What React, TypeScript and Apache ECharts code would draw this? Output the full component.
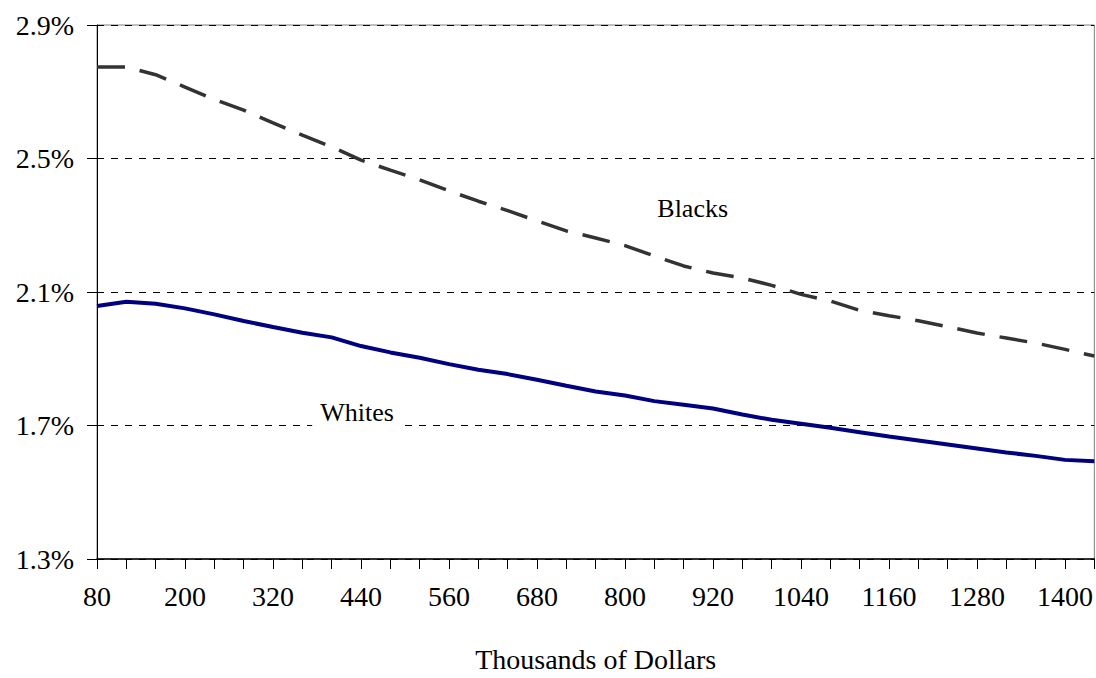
import React, { useEffect, useRef } from "react";
import * as echarts from "echarts";

const categories = [
  "80", "120", "160", "200", "240", "280", "320", "360", "400", "440",
  "480", "520", "560", "600", "640", "680", "720", "760", "800", "840",
  "880", "920", "960", "1000", "1040", "1080", "1120", "1160", "1200", "1240",
  "1280", "1320", "1360", "1400", "1440",
];

const blacks = [
  2.774, 2.774, 2.751, 2.714, 2.677, 2.645, 2.607, 2.570, 2.535, 2.495,
  2.465, 2.436, 2.403, 2.372, 2.344, 2.313, 2.283, 2.262, 2.239, 2.208,
  2.178, 2.157, 2.142, 2.120, 2.093, 2.073, 2.045, 2.029, 2.014, 1.996,
  1.977, 1.962, 1.947, 1.928, 1.908,
];

const whites = [
  2.058, 2.071, 2.065, 2.051, 2.033, 2.013, 1.995, 1.978, 1.964, 1.938,
  1.919, 1.903, 1.884, 1.867, 1.854, 1.837, 1.819, 1.802, 1.790, 1.773,
  1.762, 1.751, 1.733, 1.717, 1.705, 1.693, 1.680, 1.667, 1.655, 1.643,
  1.631, 1.619, 1.609, 1.597, 1.593,
];

const Y_MIN = 1.3;
const Y_MAX = 2.9;
const Y_STEP = 0.4;
const LABEL_EVERY = 3;

const blacksLabel = { text: "Blacks", category: "880", value: 2.35 };
const whitesLabel = { text: "Whites", category: "440", value: 1.74 };
const xAxisTitle = "Thousands of Dollars";

const FONT = "'Liberation Serif', 'Times New Roman', serif";

export default function App() {
  const ref = useRef<HTMLDivElement>(null);

  useEffect(() => {
    if (!ref.current) return;
    const chart = echarts.init(ref.current, undefined, { renderer: "svg" });
    chart.setOption({
      animation: false,
      backgroundColor: "#ffffff",
      textStyle: { fontFamily: FONT },
      grid: {
        left: 97,
        right: 1,
        top: 25,
        bottom: 115,
        show: true,
        borderColor: "#808080",
        borderWidth: 1,
        backgroundColor: "transparent",
      },
      xAxis: {
        type: "category",
        data: categories,
        boundaryGap: false,
        name: xAxisTitle,
        nameLocation: "middle",
        nameGap: 86,
        nameTextStyle: { fontFamily: FONT, fontSize: 28, color: "#000" },
        axisLine: { lineStyle: { color: "#000", width: 1.5 } },
        axisTick: {
          show: true,
          interval: 0,
          length: 10,
          inside: false,
          lineStyle: { color: "#000", width: 1 },
        },
        axisLabel: {
          interval: (idx: number) => idx % LABEL_EVERY === 0,
          margin: 23,
          fontFamily: FONT,
          fontSize: 28,
          color: "#000",
          hideOverlap: false,
        },
        splitLine: { show: false },
      },
      yAxis: {
        type: "value",
        min: Y_MIN,
        max: Y_MAX,
        interval: Y_STEP,
        axisLine: { show: true, lineStyle: { color: "#000", width: 1 } },
        axisTick: {
          show: true,
          length: 10,
          inside: false,
          lineStyle: { color: "#000", width: 1 },
        },
        axisLabel: {
          margin: 23,
          fontFamily: FONT,
          fontSize: 28,
          color: "#000",
          formatter: (v: number) => v.toFixed(1) + "%",
        },
        splitLine: {
          show: true,
          lineStyle: { color: "#000", width: 1, type: [7, 7] },
        },
      },
      series: [
        {
          name: "Blacks",
          type: "line",
          data: blacks,
          showSymbol: false,
          symbol: "none",
          smooth: false,
          lineStyle: { color: "#333333", width: 3.5, type: [28, 15], cap: "butt" },
          z: 3,
          markPoint: {
            symbol: "rect",
            symbolSize: 1,
            itemStyle: { color: "transparent" },
            label: {
              show: true,
              position: "inside",
              formatter: blacksLabel.text,
              fontFamily: FONT,
              fontSize: 26,
              color: "#000",
              offset: [9, 0],
            },
            data: [{ coord: [blacksLabel.category, blacksLabel.value] }],
          },
        },
        {
          name: "Whites",
          type: "line",
          data: whites,
          showSymbol: false,
          symbol: "none",
          smooth: false,
          lineStyle: { color: "#000080", width: 4 },
          z: 3,
          markPoint: {
            symbol: "rect",
            symbolSize: 1,
            itemStyle: { color: "transparent" },
            label: {
              show: true,
              position: "inside",
              formatter: whitesLabel.text,
              fontFamily: FONT,
              fontSize: 26,
              color: "#000",
              backgroundColor: "#ffffff",
              padding: [2, 8],
              offset: [-4, 0],
            },
            data: [{ coord: [whitesLabel.category, whitesLabel.value] }],
          },
        },
      ],
    });
    return () => chart.dispose();
  }, []);

  return (
    <div
      ref={ref}
      style={{ position: "fixed", left: 0, top: 0, width: 1096, height: 678 }}
    />
  );
}
